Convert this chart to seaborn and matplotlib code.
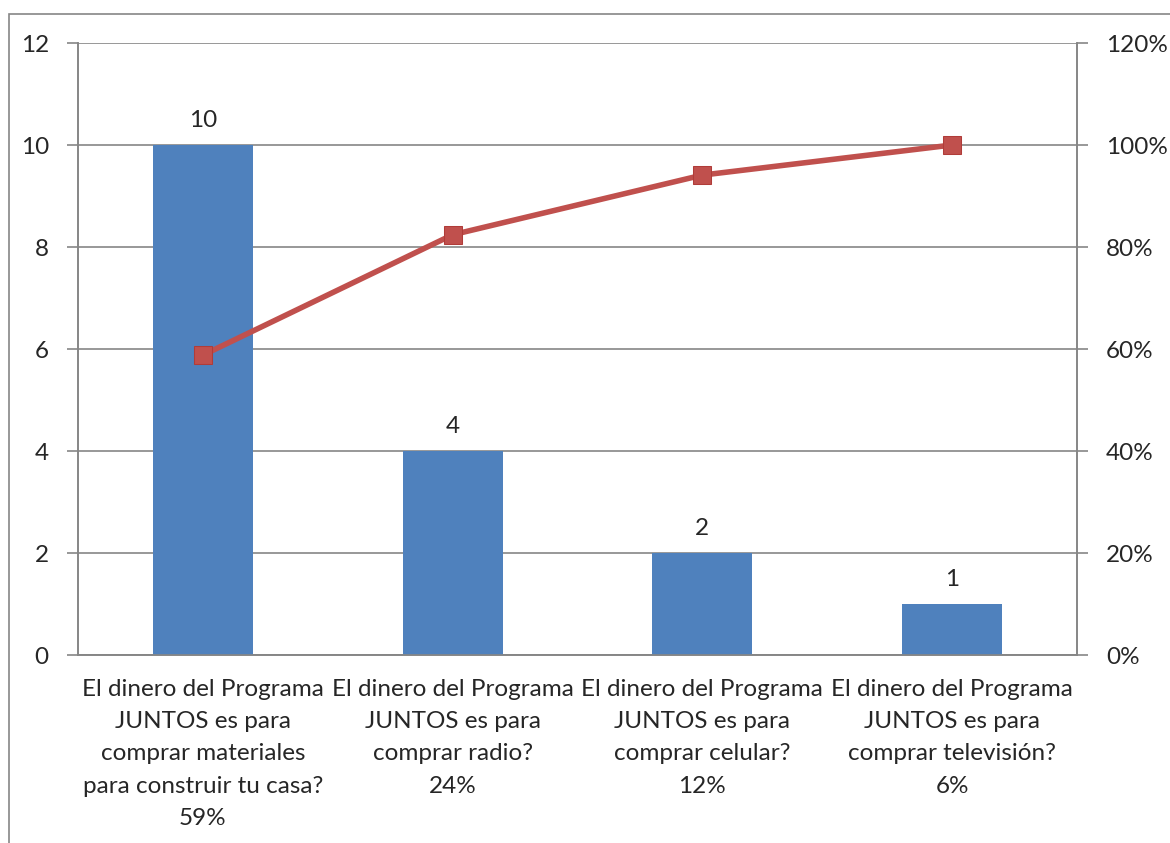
import matplotlib
matplotlib.use("Agg")
import matplotlib.pyplot as plt
import matplotlib.ticker as mtick
import seaborn as sns
import pandas as pd
from matplotlib.patches import Rectangle

# datos
categorias = [
    "El dinero del Programa\nJUNTOS es para\ncomprar materiales\npara construir tu casa?\n59%",
    "El dinero del Programa\nJUNTOS es para\ncomprar radio?\n24%",
    "El dinero del Programa\nJUNTOS es para\ncomprar celular?\n12%",
    "El dinero del Programa\nJUNTOS es para\ncomprar televisión?\n6%",
]
frecuencias = [10, 4, 2, 1]
acumulado = [0.588, 0.824, 0.941, 1.0]

df = pd.DataFrame({"cat": categorias, "n": frecuencias, "acum": acumulado})

sns.set_style("white")
plt.rcParams['font.family'] = ['Lato', 'DejaVu Sans']
gris = "#868686"
fs = 17.5

fig = plt.figure(figsize=(11.7, 8.43), dpi=100)
ax = fig.add_axes([78/1170, 1 - 655/843, (1077-78)/1170, (655-43)/843])

sns.barplot(data=df, x="cat", y="n", color="#4F81BD", width=0.4,
            saturation=1, linewidth=0, ax=ax, zorder=3)
for i, v in enumerate(frecuencias):
    ax.text(i, v + 0.28, str(v), ha="center", va="bottom", fontsize=fs)

ax.set_ylim(0, 12)
ax.set_yticks(range(0, 13, 2))
ax.set_xlim(-0.5, 3.5)
ax.yaxis.grid(True, color=gris, linewidth=1.2, zorder=0)
ax.set_xlabel("")
ax.set_ylabel("")
ax.tick_params(axis="x", which="major", length=0, pad=17, labelsize=fs)
ax.set_xticks([-0.5, 0.5, 1.5, 2.5, 3.5], minor=True)
ax.tick_params(axis="x", which="minor", length=8, color=gris, width=1.2)
ax.tick_params(axis="y", length=8, color=gris, width=1.2, labelsize=fs, pad=13)
for lbl in ax.get_xticklabels():
    lbl.set_linespacing(1.67)

ax2 = ax.twinx()
sns.lineplot(x=list(range(4)), y=acumulado, ax=ax2, color="#C0504D",
             linewidth=4, marker="s", markersize=13,
             markerfacecolor="#C0504D", markeredgecolor="#B03C39", zorder=5)
ax2.set_ylim(0, 1.2)
ax2.set_yticks([0, 0.2, 0.4, 0.6, 0.8, 1.0, 1.2])
ax2.yaxis.set_major_formatter(mtick.PercentFormatter(1.0, decimals=0))
ax2.tick_params(axis="y", length=8, color=gris, width=1.2, labelsize=fs, pad=13)

for a in (ax, ax2):
    a.spines["top"].set_visible(False)
    for k in ("left", "right", "bottom"):
        a.spines[k].set_visible(True)
        a.spines[k].set_color(gris)
        a.spines[k].set_linewidth(1.2)

# marco del gráfico
fig.patches.append(Rectangle((9/1170, -0.1), 1.2, 1 - 14/843 + 0.1,
                             transform=fig.transFigure, fill=False,
                             edgecolor=gris, linewidth=1.2))

plt.savefig("out.png", dpi=100)
